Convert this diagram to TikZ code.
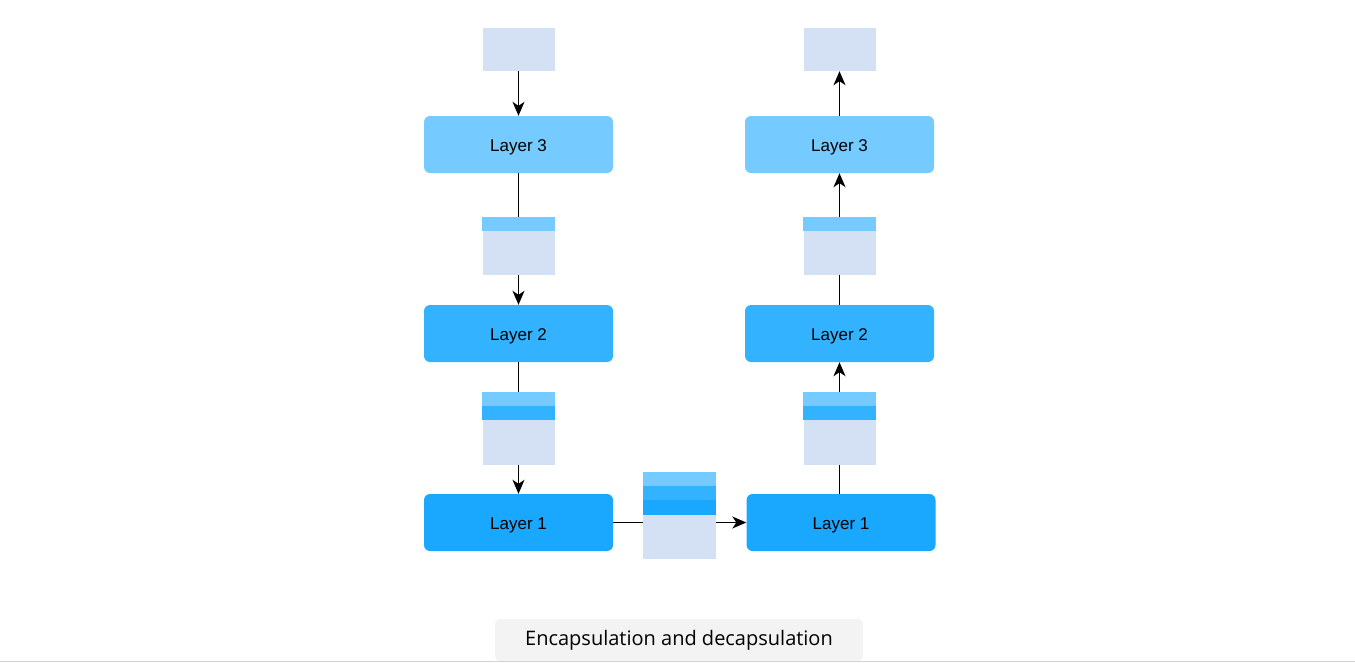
\documentclass[tikz,border=0pt]{standalone}
\usepackage{fontspec}
\setmainfont{Liberation Sans}
\newfontfamily\capfont{Open Sans}
\usetikzlibrary{arrows.meta,positioning}
\definecolor{layerthree}{HTML}{75CBFF}
\definecolor{layertwo}{HTML}{33B3FF}
\definecolor{layerone}{HTML}{1AA8FF}
\definecolor{pktbody}{HTML}{D4E0F4}
\definecolor{capgray}{HTML}{F3F3F3}

\begin{document}
\begin{tikzpicture}[
  x=1pt, y=-1pt,
  layer/.style={rounded corners=6pt, minimum width=189pt, minimum height=57pt,
    inner sep=0pt, text height=13pt, text depth=0pt, font=\fontsize{17}{20}\selectfont},
  pkt/.style={fill=pktbody, minimum width=72pt, inner sep=0pt},
  arr/.style={-{Stealth[length=14pt, width=12pt, inset=4pt]}, line width=1.5pt},
  link/.style={line width=1.5pt}
]
\useasboundingbox (0,0) rectangle (1355,662);
% sending side
\node[pkt, minimum height=43pt] (lpA) at (518.5,49.5) {};
\node[layer, fill=layerthree] (l3) at (518.5,144.5) {Layer 3};
\node[pkt, minimum height=58pt] (lpB) at (518.5,246) {};
\node[layer, fill=layertwo] (l2) at (518.5,333.5) {Layer 2};
\node[pkt, minimum height=73pt] (lpC) at (518.5,428.5) {};
\node[layer, fill=layerone] (l1) at (518.5,522.5) {Layer 1};
% on the wire
\node[pkt, minimum width=73pt, minimum height=87pt] (bus) at (679.5,515.5) {};
% receiving side
\node[pkt, minimum height=43pt] (rpA) at (839.5,49.5) {};
\node[layer, fill=layerthree] (r3) at (839.5,144.5) {Layer 3};
\node[pkt, minimum height=58pt] (rpB) at (839.5,246) {};
\node[layer, fill=layertwo] (r2) at (839.5,333.5) {Layer 2};
\node[pkt, minimum height=73pt] (rpC) at (839.5,428.5) {};
\node[layer, fill=layerone] (r1) at (841,522.5) {Layer 1};
% headers
\fill[layerthree] (lpB.north west) rectangle ([yshift=-14pt]lpB.north east);
\fill[layerthree] (rpB.north west) rectangle ([yshift=-14pt]rpB.north east);
\foreach \p in {lpC,rpC,bus} {
  \fill[layerthree] (\p.north west) rectangle ([yshift=-14pt]\p.north east);
  \fill[layertwo] ([yshift=-14pt]\p.north west) rectangle ([yshift=-28pt]\p.north east);
}
\fill[layerone] ([yshift=-28pt]bus.north west) rectangle ([yshift=-43pt]bus.north east);
% connectors
\draw[arr] (lpA) -- (l3);
\draw[link] (l3) -- (lpB);
\draw[arr] (lpB) -- (l2);
\draw[link] (l2) -- (lpC);
\draw[arr] (lpC) -- (l1);
\draw[link] (l1.east) -- (l1.east -| bus.west);
\draw[arr] (bus.east |- r1.west) -- (r1.west);
\draw[link] (rpC.south |- r1.north) -- (rpC.south);
\draw[arr] (rpC) -- (r2);
\draw[link] (r2) -- (rpB);
\draw[arr] (rpB) -- (r3);
\draw[arr] (r3) -- (rpA);
% caption
\node[fill=capgray, rounded corners=5pt, minimum width=368pt, minimum height=42pt,
  font=\capfont\fontsize{20}{24}\selectfont] (caption) at (679,640) {Encapsulation and decapsulation};
\draw[gray!35, line width=1pt] (0,661.5) -- (1355,661.5);
\end{tikzpicture}
\end{document}
